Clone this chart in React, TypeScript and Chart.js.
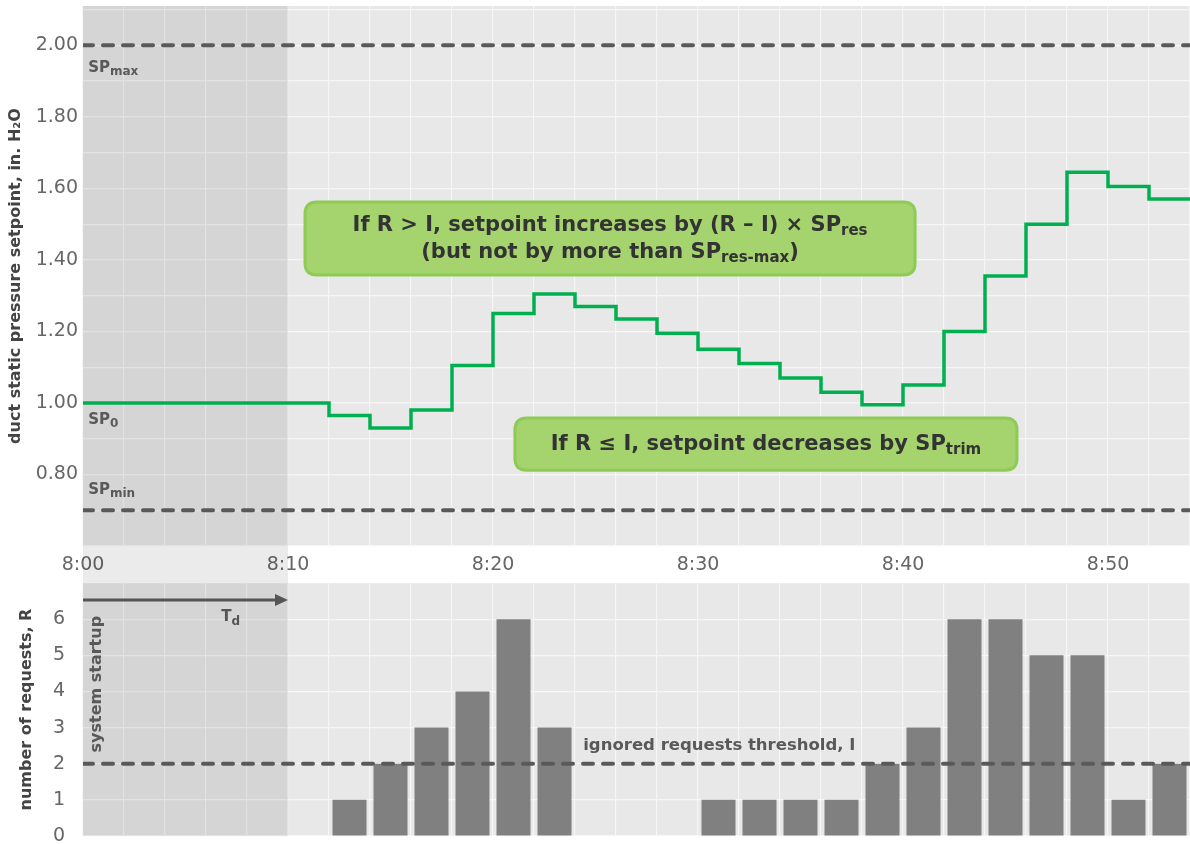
import React, { useEffect, useRef } from 'react';
import { Chart, registerables } from 'chart.js';

Chart.register(...registerables);

const FONT = "'DejaVu Sans', Verdana, sans-serif";

// ---------- data ----------
// minutes after 8:00 at which the setpoint steps to a new value (in. H2O)
const SETPOINT_MINUTES = [0, 12, 14, 16, 18, 20, 22, 24, 26, 28, 30, 32, 34, 36, 38, 40, 42, 44, 46, 48, 50, 52, 54];
const SETPOINT_VALUES = [1.0, 0.965, 0.93, 0.98, 1.105, 1.25, 1.305, 1.27, 1.235, 1.195, 1.15, 1.11, 1.07, 1.03, 0.995, 1.05, 1.2, 1.355, 1.5, 1.645, 1.605, 1.57, 1.57];

// number of requests R, one bar per 2-minute interval (centre minute)
const REQUEST_MINUTES = [13, 15, 17, 19, 21, 23, 25, 27, 29, 31, 33, 35, 37, 39, 41, 43, 45, 47, 49, 51, 53];
const REQUEST_COUNTS = [1, 2, 3, 4, 6, 3, 0, 0, 0, 1, 1, 1, 1, 2, 3, 6, 6, 5, 5, 1, 2];

const SP_MAX = 2.0;
const SP_MIN = 0.7;
const THRESHOLD_I = 2;
const TIME_START = 0;
const TIME_END = 54;
const STARTUP_END = 10; // Td

const X_TICK_MINUTES = [0, 10, 20, 30, 40, 50];
const X_TICK_LABELS = ['8:00', '8:10', '8:20', '8:30', '8:40', '8:50'];
const Y_TOP_TICKS = [0.8, 1.0, 1.2, 1.4, 1.6, 1.8, 2.0];
const Y_BOTTOM_TICKS = [0, 1, 2, 3, 4, 5, 6];

// ---------- helpers ----------
type Seg = { t: string; sub?: boolean };

function drawRich(
  ctx: CanvasRenderingContext2D,
  segs: Seg[],
  x: number,
  y: number,
  size: number,
  subSize: number,
  color: string,
  align: 'left' | 'center'
) {
  const main = `bold ${size}px ${FONT}`;
  const sub = `bold ${subSize}px ${FONT}`;
  let total = 0;
  const widths = segs.map((s) => {
    ctx.font = s.sub ? sub : main;
    const w = ctx.measureText(s.t).width;
    total += w;
    return w;
  });
  let cx = align === 'center' ? x - total / 2 : x;
  ctx.fillStyle = color;
  ctx.textBaseline = 'middle';
  ctx.textAlign = 'left';
  segs.forEach((s, i) => {
    ctx.font = s.sub ? sub : main;
    ctx.fillText(s.t, cx, s.sub ? y + size * 0.27 : y);
    cx += widths[i];
  });
}

function roundRect(ctx: CanvasRenderingContext2D, x: number, y: number, w: number, h: number, r: number) {
  ctx.beginPath();
  ctx.moveTo(x + r, y);
  ctx.lineTo(x + w - r, y);
  ctx.quadraticCurveTo(x + w, y, x + w, y + r);
  ctx.lineTo(x + w, y + h - r);
  ctx.quadraticCurveTo(x + w, y + h, x + w - r, y + h);
  ctx.lineTo(x + r, y + h);
  ctx.quadraticCurveTo(x, y + h, x, y + h - r);
  ctx.lineTo(x, y + r);
  ctx.quadraticCurveTo(x, y, x + r, y);
  ctx.closePath();
}

function shadePlugin(extendToCanvasBottom: boolean) {
  return {
    id: 'bgShade',
    beforeDraw(chart: any) {
      const { ctx, chartArea: a } = chart;
      ctx.save();
      ctx.fillStyle = '#e8e8e8';
      ctx.fillRect(a.left, a.top, a.right - a.left, a.bottom - a.top);
      ctx.restore();
    },
    beforeDatasetsDraw(chart: any) {
      const { ctx, chartArea: a } = chart;
      const xs = chart.scales.x;
      const x0 = xs.getPixelForValue(TIME_START);
      const x1 = xs.getPixelForValue(STARTUP_END);
      const bottom = extendToCanvasBottom ? chart.height : a.bottom;
      ctx.save();
      ctx.fillStyle = 'rgba(0,0,0,0.08)';
      ctx.fillRect(x0, a.top, x1 - x0, bottom - a.top);
      ctx.restore();
    },
  };
}

const topAnnotations = {
  id: 'topAnnotations',
  afterDraw(chart: any) {
    const { ctx } = chart;
    const xs = chart.scales.x;
    const ys = chart.scales.y;
    const px = (v: number) => xs.getPixelForValue(v);
    const py = (v: number) => ys.getPixelForValue(v);
    ctx.save();
    const boxes = [
      { x0: 10.83, x1: 40.59, y0: 1.562, y1: 1.358 },
      { x0: 21.07, x1: 45.56, y0: 0.958, y1: 0.812 },
    ];
    boxes.forEach((b) => {
      const l = px(b.x0), r = px(b.x1), t = py(b.y0), bt = py(b.y1);
      roundRect(ctx, l, t, r - l, bt - t, 12);
      ctx.fillStyle = '#a5d46f';
      ctx.fill();
      ctx.lineWidth = 3;
      ctx.strokeStyle = '#8ecb55';
      ctx.stroke();
    });
    const c1 = (px(10.83) + px(40.59)) / 2;
    drawRich(ctx, [{ t: 'If R > I, setpoint increases by (R \u2013 I) \u00d7 SP' }, { t: 'res', sub: true }], c1, py(1.495), 21, 15, '#333333', 'center');
    drawRich(ctx, [{ t: '(but not by more than SP' }, { t: 'res-max', sub: true }, { t: ')' }], c1, py(1.42), 21, 15, '#333333', 'center');
    const c2 = (px(21.07) + px(45.56)) / 2;
    drawRich(ctx, [{ t: 'If R \u2264 I, setpoint decreases by SP' }, { t: 'trim', sub: true }], c2, py(0.885), 21, 15, '#333333', 'center');

    // setpoint labels
    const lx = px(0.25);
    drawRich(ctx, [{ t: 'SP' }, { t: 'max', sub: true }], lx, py(1.937), 15, 12, '#595959', 'left');
    drawRich(ctx, [{ t: 'SP' }, { t: '0', sub: true }], lx, py(0.952), 15, 12, '#595959', 'left');
    drawRich(ctx, [{ t: 'SP' }, { t: 'min', sub: true }], lx, py(0.757), 15, 12, '#595959', 'left');
    ctx.restore();
  },
};

const bottomAnnotations = {
  id: 'bottomAnnotations',
  afterDraw(chart: any) {
    const { ctx } = chart;
    const xs = chart.scales.x;
    const ys = chart.scales.y;
    const px = (v: number) => xs.getPixelForValue(v);
    const py = (v: number) => ys.getPixelForValue(v);
    ctx.save();
    // Td arrow
    const ay = py(6.53);
    const ax0 = px(TIME_START);
    const ax1 = px(STARTUP_END);
    ctx.strokeStyle = '#555555';
    ctx.fillStyle = '#555555';
    ctx.lineWidth = 3;
    ctx.beginPath();
    ctx.moveTo(ax0, ay);
    ctx.lineTo(ax1 - 10, ay);
    ctx.stroke();
    ctx.beginPath();
    ctx.moveTo(ax1, ay);
    ctx.lineTo(ax1 - 13, ay - 6);
    ctx.lineTo(ax1 - 13, ay + 6);
    ctx.closePath();
    ctx.fill();
    drawRich(ctx, [{ t: 'T' }, { t: 'd', sub: true }], px(7.2), py(6.05), 15, 12, '#555555', 'center');

    // system startup (vertical)
    ctx.save();
    ctx.translate(px(0.68), py(4.2));
    ctx.rotate(-Math.PI / 2);
    ctx.font = `bold 16px ${FONT}`;
    ctx.fillStyle = '#595959';
    ctx.textAlign = 'center';
    ctx.textBaseline = 'middle';
    ctx.fillText('system startup', 0, 0);
    ctx.restore();

    // threshold label
    ctx.font = `bold 16.5px ${FONT}`;
    ctx.fillStyle = '#595959';
    ctx.textAlign = 'left';
    ctx.textBaseline = 'middle';
    ctx.fillText('ignored requests threshold, I', px(24.4), py(2.49));
    ctx.restore();
  },
};

const xLabel = (v: any) => {
  const idx = X_TICK_MINUTES.indexOf(Math.round(Number(v)));
  return idx >= 0 ? X_TICK_LABELS[idx] : '';
};

export default function App() {
  const topRef = useRef<HTMLCanvasElement | null>(null);
  const botRef = useRef<HTMLCanvasElement | null>(null);

  useEffect(() => {
    Chart.defaults.font.family = FONT;
    const gridCommon = { color: '#f6f6f6', lineWidth: 1.2, drawTicks: false };

    const top = new Chart(topRef.current as HTMLCanvasElement, {
      type: 'line',
      data: {
        datasets: [
          {
            data: SETPOINT_MINUTES.map((m, i) => ({ x: m, y: SETPOINT_VALUES[i] })),
            borderColor: '#00b050',
            borderWidth: 3.5,
            stepped: 'before',
            pointRadius: 0,
            fill: false,
            order: 1,
          },
          {
            data: [{ x: TIME_START, y: SP_MAX }, { x: TIME_END, y: SP_MAX }],
            borderColor: '#595959',
            borderWidth: 4,
            borderDash: [10, 10],
            borderCapStyle: 'round',
            pointRadius: 0,
            order: 2,
          },
          {
            data: [{ x: TIME_START, y: SP_MIN }, { x: TIME_END, y: SP_MIN }],
            borderColor: '#595959',
            borderWidth: 4,
            borderDash: [10, 10],
            borderCapStyle: 'round',
            pointRadius: 0,
            order: 2,
          },
        ],
      },
      options: {
        animation: false,
        responsive: true,
        maintainAspectRatio: false,
        layout: { padding: { top: 6, left: 0, right: 0, bottom: 0 } },
        plugins: { legend: { display: false }, tooltip: { enabled: false } },
        scales: {
          x: {
            type: 'linear',
            min: TIME_START,
            max: TIME_END,
            border: { display: false },
            grid: gridCommon,
            ticks: {
              stepSize: 2,
              autoSkip: false,
              maxRotation: 0,
              padding: 8,
              color: '#666666',
              font: { size: 19 },
              callback: xLabel,
            },
            afterFit: (s: any) => {
              s.height = 37;
              s.paddingLeft = 0;
              s.paddingRight = 0;
            },
          },
          y: {
            min: 0.6,
            max: 2.11,
            border: { display: false },
            grid: gridCommon,
            ticks: {
              stepSize: 0.1,
              includeBounds: false,
              autoSkip: false,
              padding: 5,
              color: '#666666',
              font: { size: 19 },
              callback: (v: any) => {
                const n = Math.round(Number(v) * 10) / 10;
                const hit = Y_TOP_TICKS.find((t) => Math.abs(t - n) < 1e-6);
                return hit !== undefined ? hit.toFixed(2) : '';
              },
            },
            title: {
              display: true,
              text: 'duct static pressure setpoint, in. H\u2082O',
              color: '#444444',
              font: { size: 16, weight: 'bold' },
              padding: { top: 6, bottom: 0 },
            },
            afterFit: (s: any) => {
              s.width = 83;
              s.paddingTop = 0;
              s.paddingBottom = 0;
            },
          },
        },
      } as any,
      plugins: [shadePlugin(true), topAnnotations],
    });

    const bottom = new Chart(botRef.current as HTMLCanvasElement, {
      type: 'bar',
      data: {
        datasets: [
          {
            type: 'bar',
            data: REQUEST_MINUTES.map((m, i) => ({ x: m, y: REQUEST_COUNTS[i] })),
            backgroundColor: '#808080',
            borderWidth: 0,
            barPercentage: 0.83,
            categoryPercentage: 1,
            order: 2,
          },
          {
            type: 'line',
            data: [{ x: TIME_START, y: THRESHOLD_I }, { x: TIME_END, y: THRESHOLD_I }],
            borderColor: '#595959',
            borderWidth: 4,
            borderDash: [10, 10],
            borderCapStyle: 'round',
            pointRadius: 0,
            order: 1,
          },
        ] as any,
      },
      options: {
        animation: false,
        responsive: true,
        maintainAspectRatio: false,
        layout: { padding: 0 },
        plugins: { legend: { display: false }, tooltip: { enabled: false } },
        scales: {
          x: {
            type: 'linear',
            min: TIME_START,
            max: TIME_END,
            offset: false,
            border: { display: false },
            grid: { ...gridCommon, offset: false },
            ticks: { stepSize: 2, autoSkip: false, display: false },
            afterFit: (s: any) => {
              s.height = 8;
              s.paddingLeft = 0;
              s.paddingRight = 0;
            },
          },
          y: {
            min: 0,
            max: 7,
            border: { display: false },
            grid: gridCommon,
            ticks: {
              stepSize: 1,
              autoSkip: false,
              padding: 18,
              color: '#666666',
              font: { size: 19, lineHeight: 1 },
              callback: (v: any) => (Y_BOTTOM_TICKS.includes(Number(v)) ? String(v) : ''),
            },
            title: {
              display: true,
              text: 'number of requests, R',
              color: '#444444',
              font: { size: 16, weight: 'bold' },
              padding: { top: 17, bottom: 0 },
            },
            afterFit: (s: any) => {
              s.width = 83;
              s.paddingTop = 0;
              s.paddingBottom = 0;
            },
          },
        },
      } as any,
      plugins: [shadePlugin(false), bottomAnnotations],
    });

    return () => {
      top.destroy();
      bottom.destroy();
    };
  }, []);

  return (
    <div style={{ position: 'absolute', left: 0, top: 0, width: 1190, height: 844, background: '#ffffff', overflow: 'hidden' }}>
      <div style={{ position: 'absolute', left: 0, top: 0, width: 1190, height: 583 }}>
        <canvas ref={topRef} />
      </div>
      <div style={{ position: 'absolute', left: 0, top: 583, width: 1190, height: 261 }}>
        <canvas ref={botRef} />
      </div>
    </div>
  );
}
